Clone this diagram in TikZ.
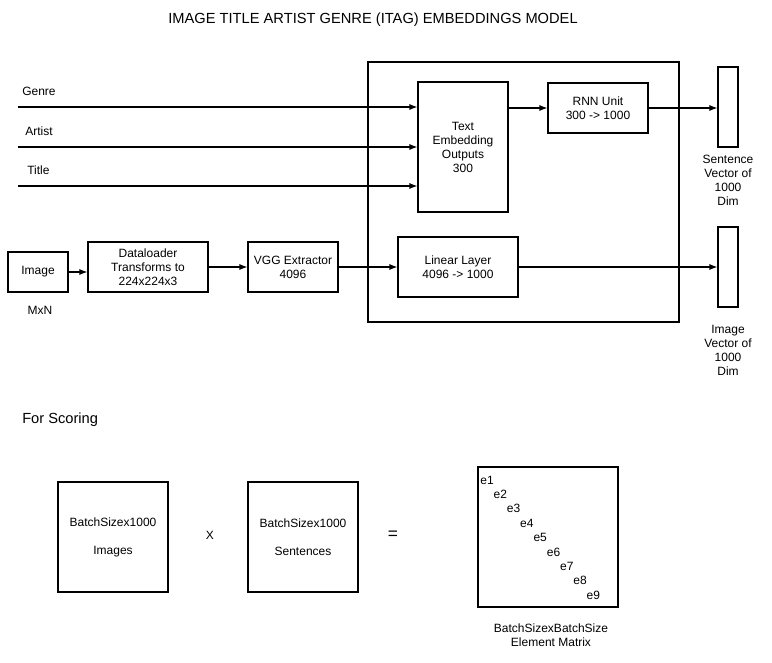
\documentclass[tikz,border=0pt]{standalone}
\usepackage{fontspec}
\setmainfont{Liberation Sans}
\usepackage{tikz}
\usetikzlibrary{positioning}
\usetikzlibrary{arrows,arrows.meta,shapes}
\usetikzlibrary{calc}
\tikzstyle{block}=[rectangle,draw=black,thick,fill=white,align=center,inner sep=0pt,font=\fontsize{9}{10.5}\selectfont]
\tikzstyle{plain}=[align=center,inner sep=0pt,font=\fontsize{9}{10.5}\selectfont]
\tikzstyle{edge} = [draw,thick,-{Latex[length=6pt,width=4.5pt]}]
\tikzstyle{inputline} = [draw,thick,-{Latex[length=6pt,width=4.5pt]}]

\begin{document}
\begin{tikzpicture}[x=0.75pt,y=-0.75pt]

   \useasboundingbox (0,0) rectangle (772,663);

% Title
   \node[plain,font=\fontsize{11}{12}\selectfont] (title) at (373,20) {IMAGE TITLE ARTIST GENRE (ITAG) EMBEDDINGS MODEL};

%model frame
   \node[block,minimum width=233.25pt,minimum height=195pt] (model) at (523.5,192) {};

%text part
   \node[block,minimum width=67.5pt,minimum height=97.5pt] (emb) at (463,147) {Text\\Embedding\\Outputs\\300};
   \node[block,minimum width=75pt,minimum height=37.5pt] (rnn) at (598,108) {RNN Unit\\300 -> 1000};
   \node[block,minimum width=15pt,minimum height=60pt] (svec) at (728,107) {};
   \node[plain] (svecl) at (728,180) {Sentence\\Vector of\\1000\\Dim};

%image part
   \node[block,minimum width=45pt,minimum height=30pt] (img) at (38,272) {Image};
   \node[plain] (mxn) at (40,310) {MxN};
   \node[block,minimum width=90pt,minimum height=37.5pt] (load) at (148,267) {Dataloader\\Transforms to\\224x224x3};
   \node[block,minimum width=67.5pt,minimum height=37.5pt] (vgg) at (293,267) {VGG Extractor\\4096};
   \node[block,minimum width=90pt,minimum height=45pt] (lin) at (458,267) {Linear Layer\\4096 -> 1000};
   \node[block,minimum width=15pt,minimum height=60pt] (ivec) at (728,267) {};
   \node[plain] (ivecl) at (728,350) {Image\\Vector of\\1000\\Dim};

%inputs
   \foreach \y/\name/\label/\lx in {107/genre/Genre/22, 147/artist/Artist/25, 186/title/Title/27}
   {
      \coordinate (\name) at (18,\y);
      \node[plain,anchor=west] (\name l) at (\lx,\y-16) {\label};
   }

% Edges
   \foreach \source in {genre, artist, title}
      \path[inputline] (\source) -- (\source -| emb.west);

   \path[edge] (emb.east |- rnn) -- (rnn);
   \path[edge] (rnn) -- (rnn -| svec.west);
   \path[edge] (img.east) -- (img.east -| load.west);
   \foreach \source/ \dest in {load/vgg, vgg/lin, lin/ivec}
      \path[edge] (\source) -- (\source -| \dest.west);

%scoring
   \node[plain,anchor=west,font=\fontsize{11}{12}\selectfont] (score) at (22,420) {For Scoring};

   \foreach \pos/\name/\label in {{(113,537)/imgs/Images}, {(303,537)/sents/Sentences}}
      \node[block,minimum width=82.5pt,minimum height=82.5pt] (\name) at \pos {BatchSizex1000\\[10.5pt]\label};

   \node[plain] (times) at (210,535) {X};
   \node[plain,font=\fontsize{13}{14}\selectfont] (eq) at (393,535) {=};

   \node[block,minimum width=105pt,minimum height=105pt] (mat) at (548,537) {};
   \foreach \i in {1,...,9}
      \node[plain] (e\i) at (487+13.3*\i-13.3, 480+14.4*\i-14.4) {e\i};
   \node[plain] (matl) at (551,635) {BatchSizexBatchSize\\Element Matrix};

\end{tikzpicture}
\end{document}
